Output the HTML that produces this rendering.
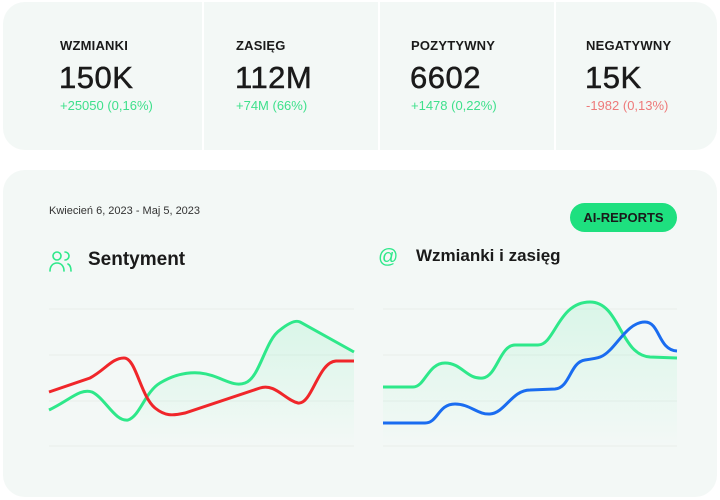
<!DOCTYPE html>
<html><head><meta charset="utf-8"><style>
*{margin:0;padding:0;box-sizing:border-box}
body{width:720px;height:500px;background:#fff;font-family:"Liberation Sans",sans-serif;position:relative;overflow:hidden;color:#1a1a1a}
.card{position:absolute;background:#f3f8f6;border-radius:22px}
.div{position:absolute;top:2px;width:2px;height:148px;background:#fff}
.lab{position:absolute;top:38px;font-size:13px;font-weight:bold;letter-spacing:0.2px}
.num{position:absolute;top:60px;font-size:31px;letter-spacing:0.5px;-webkit-text-stroke:0.5px #1a1a1a}
.sub{position:absolute;top:98px;font-size:13px;color:#3fe08c}
</style></head><body>
<div class="card" style="left:3px;top:2px;width:714px;height:148px"></div>
<div class="div" style="left:202px"></div>
<div class="div" style="left:378px"></div>
<div class="div" style="left:554px"></div>
<div class="lab" style="left:60px">WZMIANKI</div><div class="num" style="left:59px">150K</div><div class="sub" style="left:60px">+25050 (0,16%)</div>
<div class="lab" style="left:236px">ZASIĘG</div><div class="num" style="left:235px">112M</div><div class="sub" style="left:236px">+74M (66%)</div>
<div class="lab" style="left:411px">POZYTYWNY</div><div class="num" style="left:410px">6602</div><div class="sub" style="left:411px">+1478 (0,22%)</div>
<div class="lab" style="left:586px">NEGATYWNY</div><div class="num" style="left:585px">15K</div><div class="sub" style="left:586px;color:#ee7a7a">-1982 (0,13%)</div>

<div class="card" style="left:3px;top:170px;width:714px;height:327px"></div>
<div style="position:absolute;left:49px;top:205px;font-size:11px;color:#333">Kwiecień 6, 2023 - Maj 5, 2023</div>
<div style="position:absolute;left:570px;top:203px;width:107px;height:29px;border-radius:15px;background:#1ee07f;font-size:13px;font-weight:bold;text-align:center;line-height:29px">AI-REPORTS</div>
<div style="position:absolute;left:88px;top:249px;font-size:19px;font-weight:bold">Sentyment</div>
<div style="position:absolute;left:416px;top:246px;font-size:17px;font-weight:bold">Wzmianki i zasięg</div>
<div style="position:absolute;left:378px;top:246px;font-size:20px;color:#2ee88a">@</div>
<svg width="720" height="500" style="position:absolute;left:0;top:0">
<defs><linearGradient id="g" x1="0" y1="0" x2="0" y2="1"><stop offset="0" stop-color="#2ee88a" stop-opacity="0.13"/><stop offset="1" stop-color="#2ee88a" stop-opacity="0"/></linearGradient></defs>
<g fill="none" stroke="#2ee88a" stroke-width="1.6" stroke-linecap="round"><circle cx="57" cy="256" r="4"/><path d="M50 271c0-5 3-8 7-8s7 3 7 8"/><path d="M65 252a4 4 0 0 1 0 8M68 264c2 1 3 4 3 7"/></g>
<g stroke="#e8eeeb" stroke-width="1"><line x1="49" y1="309" x2="354" y2="309"/><line x1="49" y1="355" x2="354" y2="355"/><line x1="49" y1="401" x2="354" y2="401"/><line x1="49" y1="446" x2="354" y2="446"/>
<line x1="383" y1="309" x2="677" y2="309"/><line x1="383" y1="355" x2="677" y2="355"/><line x1="383" y1="401" x2="677" y2="401"/><line x1="383" y1="446" x2="677" y2="446"/></g>
<path d="M140 405C145 395 150 390 160 383C175 374 188 372 200 373C220 375 232 388 245 383C260 378 265 340 280 330C290 322 296 320 300 322L354 352L354 446L140 446Z" fill="url(#g)"/>
<path d="M49 410C70 400 80 388 92 392C105 398 115 422 128 420C140 416 145 392 160 383C175 374 188 372 200 373C220 375 232 388 245 383C260 378 265 340 280 330C290 322 296 320 300 322L354 352" fill="none" stroke="#2ee88a" stroke-width="3"/>
<path d="M49 392L90 378C105 370 112 358 124 358C136 358 140 395 155 408C165 416 172 416 185 413L260 388C275 383 285 400 298 403C312 405 318 362 336 361L354 361" fill="none" stroke="#f0262a" stroke-width="3"/>
<path d="M383 387L413 387C425 387 428 363 445 363C462 363 467 380 483 378C497 376 500 345 515 345L538 345C555 345 558 302 590 302C620 302 620 355 650 357L677 358L677 446L383 446Z" fill="url(#g)"/>
<path d="M383 387L413 387C425 387 428 363 445 363C462 363 467 380 483 378C497 376 500 345 515 345L538 345C555 345 558 302 590 302C620 302 620 355 650 357L677 358" fill="none" stroke="#2ee88a" stroke-width="3"/>
<path d="M383 423L425 423C438 423 438 404 455 404C470 404 478 415 490 414C505 413 512 390 530 390L555 389C570 388 570 362 585 360C600 358 603 357 610 350C620 340 630 322 645 322C660 322 658 350 677 351" fill="none" stroke="#1a6cf0" stroke-width="3"/>
</svg>
</body></html>
